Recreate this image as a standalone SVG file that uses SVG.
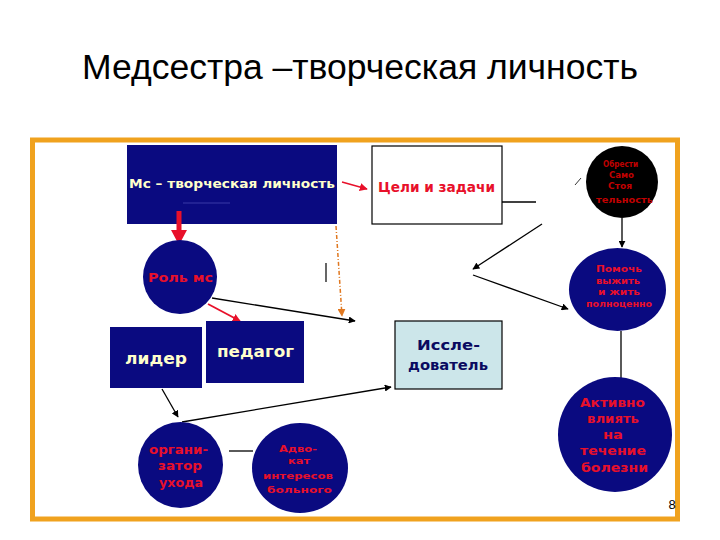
<svg xmlns="http://www.w3.org/2000/svg" width="720" height="540" viewBox="0 0 720 540">
<defs>
<style>
.t{font-family:"Liberation Sans",Arial,sans-serif}
.b{font-family:"DejaVu Sans","Liberation Sans",sans-serif;font-weight:bold}
.navy{fill:#0A0A80}
.yl{fill:#FFFFCC}
.rd{fill:#E8102A}
.ln{stroke:#000;stroke-width:1.3;fill:none}
</style>
<marker id="ab" viewBox="0 0 10 10" refX="9" refY="5" markerWidth="7" markerHeight="7" orient="auto" markerUnits="userSpaceOnUse"><path d="M0,0 L10,5 L0,10 z" fill="#000"/></marker>
<marker id="ar" viewBox="0 0 10 10" refX="9" refY="5" markerWidth="8" markerHeight="8" orient="auto" markerUnits="userSpaceOnUse"><path d="M0,0 L10,5 L0,10 z" fill="#E8102A"/></marker>
<marker id="ao" viewBox="0 0 10 10" refX="9" refY="5" markerWidth="8" markerHeight="8" orient="auto" markerUnits="userSpaceOnUse"><path d="M0,0 L10,5 L0,10 z" fill="#E07820"/></marker>
</defs>
<rect width="720" height="540" fill="#fff"/>
<text class="t" x="82" y="79" font-size="35.5" fill="#000" textLength="556" lengthAdjust="spacingAndGlyphs">Медсестра –творческая личность</text>
<rect x="32.5" y="140" width="645" height="379" fill="none" stroke="#F0A21E" stroke-width="5"/>

<g id="connectors">
<line x1="342" y1="182" x2="367" y2="189" stroke="#E8102A" stroke-width="1.5" marker-end="url(#ar)"/>
<line x1="502" y1="202" x2="536" y2="202" class="ln"/>
<line x1="575" y1="185" x2="581" y2="178" stroke="#000" stroke-width="0.8"/>
<line x1="622" y1="218" x2="622" y2="247" class="ln" stroke-width="1.8" marker-end="url(#ab)"/>
<line x1="542" y1="224" x2="473" y2="269" class="ln" stroke-width="1.8" marker-end="url(#ab)"/>
<line x1="473" y1="275" x2="568" y2="309" class="ln" stroke-width="1.8" marker-end="url(#ab)"/>
<line x1="212" y1="298" x2="355" y2="321" class="ln" stroke-width="1.8" marker-end="url(#ab)"/>
<line x1="208" y1="304" x2="240" y2="321" stroke="#E8102A" stroke-width="1.8" marker-end="url(#ar)"/>
<line x1="336" y1="226" x2="342" y2="316" stroke="#E07820" stroke-width="1.5" stroke-dasharray="4,2,1,2" marker-end="url(#ao)"/>
<line x1="326" y1="263" x2="326" y2="282" stroke="#000" stroke-width="1.2"/>
<line x1="621" y1="331" x2="621" y2="378" class="ln" stroke-width="1.8"/>
<line x1="162" y1="389" x2="178" y2="417" class="ln" stroke-width="1.5" marker-end="url(#ab)"/>
<line x1="182" y1="422" x2="391" y2="387" class="ln" stroke-width="1.5" marker-end="url(#ab)"/>
<line x1="229" y1="451" x2="253" y2="451" class="ln" stroke-width="1.2"/>
</g>

<g id="n-mc">
<rect x="127" y="145" width="210" height="79" class="navy"/>
<line x1="183" y1="203" x2="230" y2="203" stroke="#2a2a9a" stroke-width="1.5"/>
<text class="b yl" x="129" y="188" font-size="12.5" textLength="206" lengthAdjust="spacingAndGlyphs">Мс – творческая личность</text>
</g>
<g id="a-red">
<rect x="176.5" y="211" width="5" height="20" fill="#E8102A"/>
<path d="M171,230 L187,230 L179,245 z" fill="#E8102A"/>
</g>
<g id="n-goals">
<rect x="372" y="146" width="130" height="78" fill="#fff" stroke="#000" stroke-width="1.2"/>
<text class="b rd" x="378" y="192" font-size="13.5" textLength="117" lengthAdjust="spacingAndGlyphs">Цели и задачи</text>
</g>
<g id="n-obresti">
<circle cx="622" cy="182" r="36" fill="#000"/>
<g class="b" fill="#C00000" font-size="8">
<text x="603" y="167" textLength="35" lengthAdjust="spacingAndGlyphs">Обрести</text>
<text x="609" y="178" textLength="25" lengthAdjust="spacingAndGlyphs">Само</text>
<text x="608" y="189" textLength="24" lengthAdjust="spacingAndGlyphs">Стоя</text>
<text x="596" y="203" textLength="57" lengthAdjust="spacingAndGlyphs">тельность</text>
</g>
</g>
<g id="n-pomoch">
<ellipse cx="617.5" cy="289.5" rx="48.5" ry="41.5" class="navy"/>
<g class="b rd" font-size="8">
<text x="596" y="272" textLength="46" lengthAdjust="spacingAndGlyphs">Помочь</text>
<text x="596" y="284" textLength="44" lengthAdjust="spacingAndGlyphs">выжить</text>
<text x="598" y="295" textLength="42" lengthAdjust="spacingAndGlyphs">и жить</text>
<text x="586" y="307" textLength="66" lengthAdjust="spacingAndGlyphs">полноценно</text>
</g>
</g>
<g id="n-rol">
<circle cx="180" cy="277" r="37" class="navy"/>
<text class="b rd" x="148" y="282" font-size="13" textLength="65" lengthAdjust="spacingAndGlyphs">Роль мс</text>
</g>
<g id="n-lider">
<rect x="110" y="327" width="92" height="61" class="navy"/>
<text class="b yl" x="125" y="364" font-size="15" textLength="62" lengthAdjust="spacingAndGlyphs">лидер</text>
</g>
<g id="n-pedagog">
<rect x="206" y="321" width="98" height="62" class="navy"/>
<text class="b yl" x="217" y="357" font-size="15" textLength="77" lengthAdjust="spacingAndGlyphs">педагог</text>
</g>
<g id="n-issl">
<rect x="395" y="321" width="107" height="68" fill="#CCE6EA" stroke="#000" stroke-width="1.2"/>
<g class="b" fill="#0A0A60" font-size="14">
<text x="417" y="350" textLength="63" lengthAdjust="spacingAndGlyphs">Иссле-</text>
<text x="408" y="370" textLength="80" lengthAdjust="spacingAndGlyphs">дователь</text>
</g>
</g>
<g id="n-org">
<ellipse cx="180.5" cy="465" rx="42.5" ry="43" class="navy"/>
<g class="b rd" font-size="12">
<text x="149" y="454" textLength="59" lengthAdjust="spacingAndGlyphs">органи-</text>
<text x="158" y="470" textLength="44" lengthAdjust="spacingAndGlyphs">затор</text>
<text x="159" y="487" textLength="44" lengthAdjust="spacingAndGlyphs">ухода</text>
</g>
</g>
<g id="n-advokat">
<ellipse cx="300" cy="468" rx="48" ry="45" class="navy"/>
<g class="b rd" font-size="9">
<text x="279" y="452" textLength="38" lengthAdjust="spacingAndGlyphs">Адво-</text>
<text x="288" y="464" textLength="22" lengthAdjust="spacingAndGlyphs">кат</text>
<text x="263" y="479" textLength="70" lengthAdjust="spacingAndGlyphs">интересов</text>
<text x="267" y="493" textLength="65" lengthAdjust="spacingAndGlyphs">больного</text>
</g>
</g>
<g id="n-aktivno">
<ellipse cx="615" cy="434.5" rx="57" ry="57.5" class="navy"/>
<g class="b rd" font-size="12.5">
<text x="580" y="407" textLength="65" lengthAdjust="spacingAndGlyphs">Активно</text>
<text x="587" y="423" textLength="52" lengthAdjust="spacingAndGlyphs">влиять</text>
<text x="603" y="439" textLength="20" lengthAdjust="spacingAndGlyphs">на</text>
<text x="580" y="455" textLength="66" lengthAdjust="spacingAndGlyphs">течение</text>
<text x="581" y="472" textLength="67" lengthAdjust="spacingAndGlyphs">болезни</text>
</g>
</g>
<text class="t" x="672" y="509" font-size="13" text-anchor="middle" fill="#000">8</text>
</svg>
